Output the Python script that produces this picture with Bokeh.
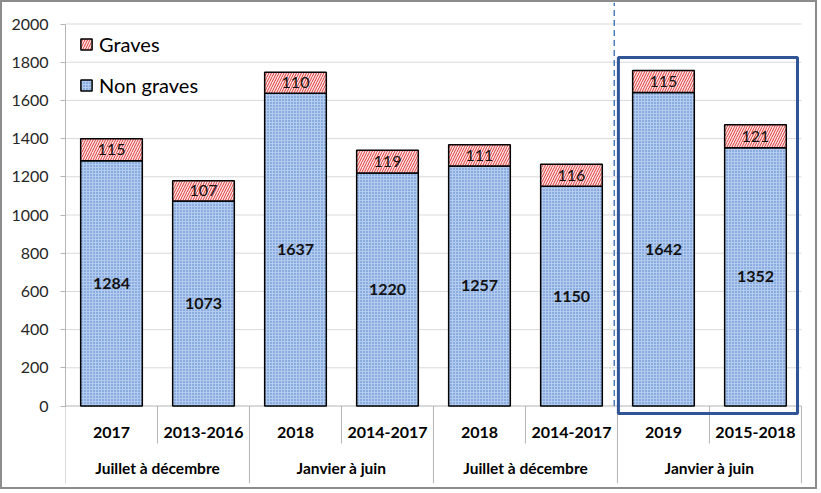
from bokeh.core.properties import value
from bokeh.embed import file_html
from bokeh.models import BoxAnnotation, FixedTicker, Legend, LegendItem, Range1d
from bokeh.plotting import figure
from bokeh.resources import INLINE

# data
periods = ["2017", "2013-2016", "2018", "2014-2017", "2018", "2014-2017", "2019", "2015-2018"]
groups = ["Juillet à décembre", "Janvier à juin", "Juillet à décembre", "Janvier à juin"]
non_graves = [1284, 1073, 1637, 1220, 1257, 1150, 1642, 1352]
graves = [115, 107, 110, 119, 111, 116, 115, 121]
y_ticks = [0, 200, 400, 600, 800, 1000, 1200, 1400, 1600, 1800, 2000]

FONT = value("Lato")
AXIS_GREY = "#b4b4b4"
GRID_GREY = "#d9d9d9"
BLUE_FILL = "#b3cbee"
BLUE_DOTS = "#4f7cc4"
RED_FILL = "#fde4e4"
RED_LINES = "#e0393a"
BOX_BLUE = "#2f5597"

n = len(periods)
xs = [i + 0.5 for i in range(n)]
tops = [a + b for a, b in zip(non_graves, graves)]
Y_END = 2112.6

p = figure(width=817, height=489, output_backend="svg", toolbar_location=None,
           x_range=Range1d(0, 8.196), y_range=Range1d(-447.6, Y_END),
           min_border_left=63, min_border_right=0, min_border_top=0, min_border_bottom=0)
p.styles = {"border": "2px solid #8c8c8c"}
p.outline_line_color = None
p.grid.visible = False
p.xaxis.visible = False

# y axis
p.yaxis.ticker = FixedTicker(ticks=y_ticks)
p.yaxis.bounds = (y_ticks[0], y_ticks[-1])
p.yaxis.axis_line_color = AXIS_GREY
p.yaxis.major_tick_line_color = AXIS_GREY
p.yaxis.major_tick_out = 5
p.yaxis.major_tick_in = 0
p.yaxis.minor_tick_line_color = None
p.yaxis.major_label_text_font = "Lato"
p.yaxis.major_label_text_font_size = "16px"
p.yaxis.major_label_text_color = "#262626"
p.yaxis.major_label_standoff = 12

# horizontal gridlines and baseline
grid_y = y_ticks[1:]
p.segment(x0=[0] * len(grid_y), x1=[n] * len(grid_y), y0=grid_y, y1=grid_y,
          line_color=GRID_GREY, line_width=1)
p.segment(x0=[0], x1=[n], y0=[0], y1=[0], line_color=AXIS_GREY, line_width=1)

# category separators
sub_x = list(range(1, n, 2))
grp_x = list(range(0, n + 1, 2))
p.segment(x0=sub_x, x1=sub_x, y0=[0] * len(sub_x), y1=[-196] * len(sub_x),
          line_color=AXIS_GREY, line_width=1)
p.segment(x0=grp_x, x1=grp_x, y0=[0] * len(grp_x), y1=[-405] * len(grp_x),
          line_color=AXIS_GREY, line_width=1)

# bars
r_non = p.vbar(x=xs, width=0.67, bottom=0, top=non_graves,
               fill_color=BLUE_FILL, hatch_pattern=".", hatch_color=BLUE_DOTS,
               hatch_scale=3, hatch_weight=1, line_color="black", line_width=1.5)
r_gr = p.vbar(x=xs, width=0.67, bottom=non_graves, top=tops,
              fill_color=RED_FILL, hatch_pattern="/", hatch_color=RED_LINES,
              hatch_scale=5, hatch_weight=1, line_color="black", line_width=1.5)

# value labels
p.text(x=xs, y=[v / 2 for v in non_graves], text=[str(v) for v in non_graves],
       text_font=FONT, text_font_size="16px", text_font_style="bold",
       text_align="center", text_baseline="middle", text_color="#111111")
p.text(x=xs, y=[a + b / 2 for a, b in zip(non_graves, graves)], text=[str(v) for v in graves],
       text_font=FONT, text_font_size="16px",
       text_align="center", text_baseline="middle", text_color="#111111")

# category labels
p.text(x=xs, y=[-139] * n, text=periods, text_font=FONT, text_font_size="16px",
       text_font_style="bold", text_align="center", text_baseline="middle", text_color="black")
p.text(x=[2 * j + 1 for j in range(len(groups))], y=[-327] * len(groups), text=groups,
       text_font=FONT, text_font_size="15.5px", text_font_style="bold",
       text_align="center", text_baseline="middle", text_color="black")

# dashed divider and highlight box for the latest period
p.segment(x0=[6 - 0.035], x1=[6 - 0.035], y0=[0], y1=[Y_END],
          line_color="#4a7ebb", line_width=1.5, line_dash="6 4")
p.add_layout(BoxAnnotation(left=6.01, right=7.957, bottom=-39, top=1825,
                           fill_alpha=0, line_color=BOX_BLUE, line_alpha=1, line_width=3))

legend = Legend(items=[LegendItem(label="Graves", renderers=[r_gr]),
                       LegendItem(label="Non graves", renderers=[r_non])],
                location=(14, 394), label_text_font="Lato", label_text_font_size="20px",
                label_text_color="black",
                glyph_width=14, glyph_height=14, label_height=20, spacing=17,
                padding=0, margin=0, label_standoff=6,
                background_fill_alpha=0, border_line_color=None)
p.add_layout(legend)

open("out.html", "w").write(file_html(p, INLINE))
